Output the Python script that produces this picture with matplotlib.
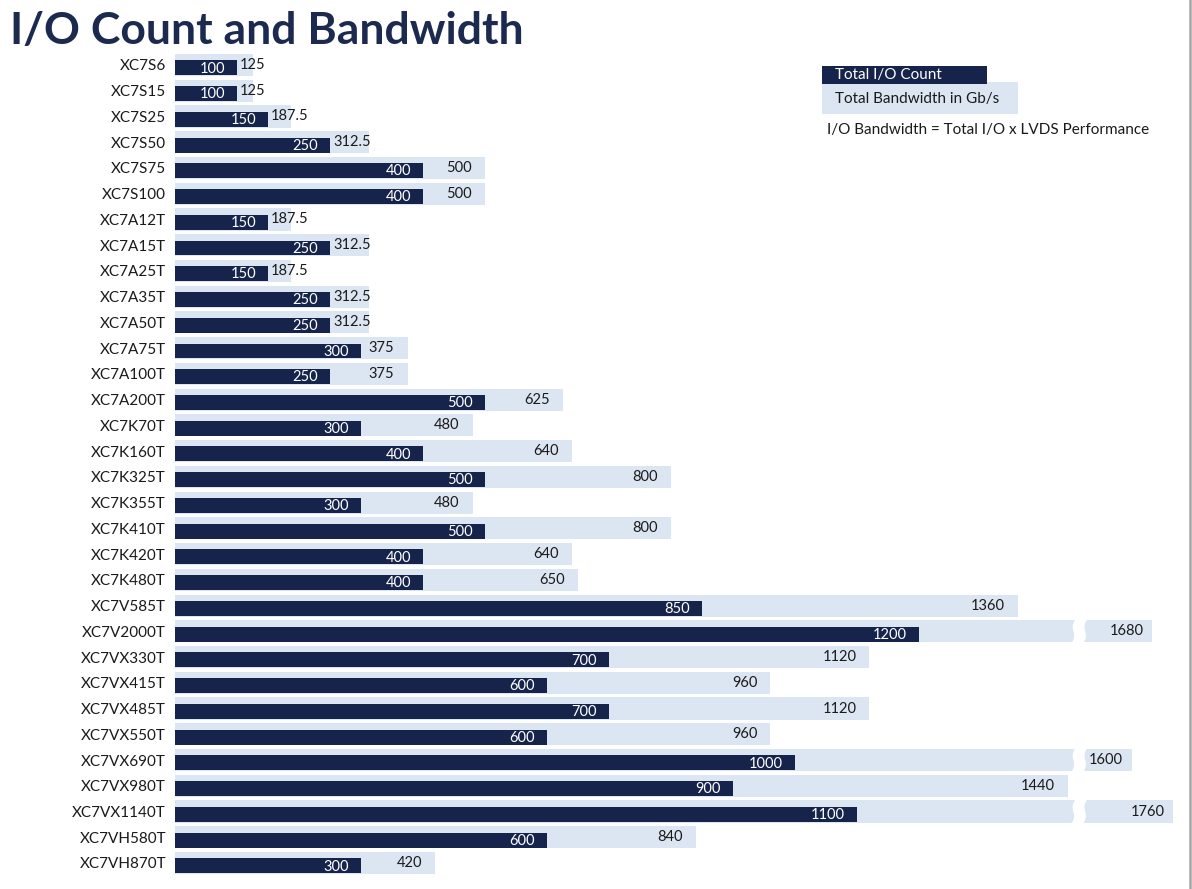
import numpy as np
import matplotlib
matplotlib.use("Agg")
import matplotlib.pyplot as plt
from matplotlib.patches import Rectangle, Polygon
from matplotlib.lines import Line2D

# ---------------- data ----------------
devices = ["XC7S6", "XC7S15", "XC7S25", "XC7S50", "XC7S75", "XC7S100",
           "XC7A12T", "XC7A15T", "XC7A25T", "XC7A35T", "XC7A50T", "XC7A75T",
           "XC7A100T", "XC7A200T", "XC7K70T", "XC7K160T", "XC7K325T", "XC7K355T",
           "XC7K410T", "XC7K420T", "XC7K480T", "XC7V585T", "XC7V2000T", "XC7VX330T",
           "XC7VX415T", "XC7VX485T", "XC7VX550T", "XC7VX690T", "XC7VX980T",
           "XC7VX1140T", "XC7VH580T", "XC7VH870T"]
io_count = [100, 100, 150, 250, 400, 400,
            150, 250, 150, 250, 250, 300,
            250, 500, 300, 400, 500, 300,
            500, 400, 400, 850, 1200, 700,
            600, 700, 600, 1000, 900,
            1100, 600, 300]
bandwidth = [125, 125, 187.5, 312.5, 500, 500,
             187.5, 312.5, 187.5, 312.5, 312.5, 375,
             375, 625, 480, 640, 800, 480,
             800, 640, 650, 1360, 1680, 1120,
             960, 1120, 960, 1600, 1440,
             1760, 840, 420]

title = "I/O Count and Bandwidth"
legend_count = "Total I/O Count"
legend_bw = "Total Bandwidth in Gb/s"
note = "I/O Bandwidth = Total I/O x LVDS Performance"

# ---------------- style ----------------
DARK = "#16244b"
LIGHT = "#dce6f2"
TITLE_C = "#1b2a4e"
TEXT_C = "#1a1a1a"
FONT = ["Lato", "DejaVu Sans"]
plt.rcParams["font.family"] = FONT

W, H = 1192, 889
fig = plt.figure(figsize=(W / 100, H / 100), dpi=100)
fig.patch.set_facecolor("white")

# axis break (broken scale for very long bars)
B, G, K = 1450.0, 30.0, 0.42


def fwd(x):
    x = np.asarray(x, dtype=float)
    return np.where(x <= B, x, B + G + (x - B) * K)


def inv(y):
    y = np.asarray(y, dtype=float)
    return np.where(y <= B, y, np.where(y < B + G, B, B + (y - B - G) / K))


n = len(devices)
row_top, row_bot = 65.0, 863.0
step = (row_bot - row_top) / (n - 1)
ax_top = row_top - step / 2
ax_bot = row_bot + step / 2
ax_left = 175.0
ax_right = 1188.0
ax = fig.add_axes([ax_left / W, 1 - ax_bot / H, (ax_right - ax_left) / W, (ax_bot - ax_top) / H])
ax.set_xscale("function", functions=(fwd, inv))
px_per_unit = 0.62
ax.set_xlim(0, float(inv((ax_right - ax_left) / px_per_unit)))
ax.set_ylim(n - 0.5, -0.5)

y = np.arange(n)
lh = 0.86
dh = 0.58
ax.barh(y, bandwidth, height=lh, color=LIGHT, zorder=1)
dark_c = y + lh / 2 - dh / 2 - 0.03
ax.barh(dark_c, io_count, height=dh, color=DARK, zorder=2)

# break marks on bars that exceed the break
T = ax.transLimits + ax.transAxes
t = np.linspace(0, 1, 30)
for yi, bw in zip(y, bandwidth):
    if bw > B:
        yy = yi + (lh / 2 + 0.04) - t * (lh + 0.08)
        wave = (4 * (t - 0.5) + 1.6 * np.sin(2 * np.pi * t)) / px_per_unit
        xl = B - 1 + wave
        xr = B + 18 + wave
        verts = np.column_stack([np.r_[xl, xr[::-1]], np.r_[yy, yy[::-1]]])
        ax.add_patch(Polygon(verts, closed=True, facecolor="white", edgecolor="none",
                             transform=T, zorder=3))

# value labels
for yi, dc, c, bw in zip(y, dark_c, io_count, bandwidth):
    ax.annotate(f"{c:g}", (c, dc), xytext=(-8.6, -0.5), textcoords="offset points",
                ha="right", va="center", color="white", fontsize=10.5, zorder=4)
    if bw - c < 70:
        ax.annotate(f"{bw:g}", (c, yi), xytext=(2.2, 0), textcoords="offset points",
                    ha="left", va="center", color=TEXT_C, fontsize=10.5, zorder=4)
    else:
        pad = -6.5 if bw > B else -9.4
        ax.annotate(f"{bw:g}", (bw, yi), xytext=(pad, 0), textcoords="offset points",
                    ha="right", va="center", color=TEXT_C, fontsize=10.5, zorder=4)

ax.set_yticks(y)
ax.set_yticklabels(devices, fontsize=11, color=TEXT_C)
ax.tick_params(axis="y", length=0, pad=6.5)
ax.set_xticks([])
ax.xaxis.set_minor_locator(matplotlib.ticker.NullLocator())
for s in ax.spines.values():
    s.set_visible(False)

# title
fig.text(10 / W, 1 - 44 / H, title, fontsize=32, fontweight="bold", color=TITLE_C,
         ha="left", va="baseline")

# legend
fig.patches.append(Rectangle((822 / W, 1 - 114 / H), 196 / W, 32 / H, transform=fig.transFigure,
                             facecolor=LIGHT, edgecolor="none"))
fig.patches.append(Rectangle((822 / W, 1 - 84 / H), 165 / W, 18 / H, transform=fig.transFigure,
                             facecolor=DARK, edgecolor="none"))
fig.text(835 / W, 1 - 75.5 / H, legend_count, fontsize=11, color="white", ha="left", va="center")
fig.text(835 / W, 1 - 99 / H, legend_bw, fontsize=11, color=TEXT_C, ha="left", va="center")
fig.text(827 / W, 1 - 130 / H, note, fontsize=11, color=TEXT_C, ha="left", va="center")

# frame line on the right
fig.add_artist(Line2D([1189.5 / W, 1189.5 / W], [0, 1], transform=fig.transFigure,
                      color="#a6a6a6", linewidth=1.8))

fig.savefig("out.png", dpi=100, facecolor="white")
